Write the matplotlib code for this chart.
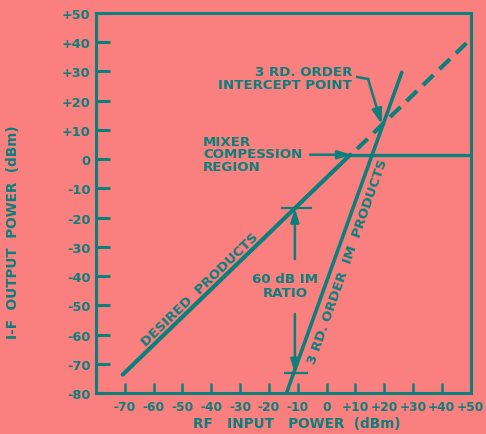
import matplotlib
matplotlib.use("Agg")
import matplotlib.pyplot as plt

# colours of the print
bg = "#fa8080"
ink = "#0b7f7b"

# axis ticks
x_ticks = [-70, -60, -50, -40, -30, -20, -10, 0, 10, 20, 30, 40, 50]
y_ticks = [-80, -70, -60, -50, -40, -30, -20, -10, 0, 10, 20, 30, 40, 50]

# curves (dBm in, dBm out)
desired_x = [-70.7, 8.2]
desired_y = [-73.7, 1.5]
compress_x = [8.2, 50]
compress_y = [1.5, 1.5]
extrap_x = [10.6, 50]
extrap_y = [3.5, 41.1]
im3_x = [-13.9, 26.1]
im3_y = [-80, 29.7]

# 60 dB ratio markers
ratio_x = -11
ratio_top = -16.8
ratio_bottom = -73.2
intercept = (19.1, 12.0)


def fmt(v):
    return "+%d" % v if v > 0 else "%d" % v


plt.rcParams['font.family'] = ['DejaVu Sans']
plt.rcParams['font.weight'] = 'bold'

fig = plt.figure(figsize=(4.86, 4.35), dpi=100, facecolor=bg)
ax = fig.add_axes([0.1975, 0.0943, 0.771, 0.8736], facecolor=bg)

lw = 3.0
ax.plot(desired_x, desired_y, color=ink, lw=lw, solid_capstyle='round')
ax.plot(compress_x, compress_y, color=ink, lw=2.4)
ax.plot(extrap_x, extrap_y, color=ink, lw=lw, dashes=(3.5, 2))
ax.plot(im3_x, im3_y, color=ink, lw=2.6, solid_capstyle='round')

ax.set_xlim(-80, 50)
ax.set_ylim(-80, 50)

for s in ax.spines.values():
    s.set_color(ink)
    s.set_linewidth(2.2)

ax.set_xticks(x_ticks)
ax.set_xticklabels([fmt(v) for v in x_ticks])
ax.set_yticks(y_ticks)
ax.set_yticklabels([fmt(v) for v in y_ticks])
ax.tick_params(axis='y', direction='in', length=10, width=2.2, color=ink,
               labelcolor=ink, labelsize=9.3, pad=4)
ax.tick_params(axis='x', direction='in', length=7, width=1.8, color=ink,
               labelcolor=ink, labelsize=8.8, pad=5)
for t in ax.get_xticklabels() + ax.get_yticklabels():
    t.set_fontweight('bold')

ax.set_ylabel("I-F  OUTPUT  POWER  (dBm)", color=ink, fontsize=9.8, fontweight='bold')
ax.yaxis.set_label_coords(-0.202, 0.425)
ax.set_xlabel("RF   INPUT   POWER  (dBm)", color=ink, fontsize=9.8, fontweight='bold')
ax.xaxis.set_label_coords(0.536, -0.061)

tsize = 9.6

# 60 dB IM ratio
for yy, x0, x1 in [(ratio_top, -15.5, -5.4), (ratio_bottom, -14.4, -6.8)]:
    ax.plot([x0, x1], [yy, yy], color=ink, lw=1.6)
ax.annotate("", xy=(ratio_x, ratio_top), xytext=(ratio_x, -34.2),
            arrowprops=dict(arrowstyle='-|>,head_length=0.8,head_width=0.25',
                            color=ink, lw=1.8, shrinkA=0, shrinkB=0))
ax.annotate("", xy=(ratio_x, ratio_bottom), xytext=(ratio_x, -53),
            arrowprops=dict(arrowstyle='-|>,head_length=0.8,head_width=0.25',
                            color=ink, lw=1.8, shrinkA=0, shrinkB=0))
ax.text(-14.4, -43.4, "60 dB IM\nRATIO", color=ink, fontsize=tsize,
        fontweight='bold', ha='center', va='center', linespacing=1.1)

# labels along the lines
ax.text(-43.9, -44.4, "DESIRED  PRODUCTS", color=ink, fontsize=tsize,
        fontweight='bold', ha='center', va='center', rotation=44,
        rotation_mode='anchor')
ax.text(7.4, -34.8, "3 RD. ORDER  IM  PRODUCTS", color=ink, fontsize=tsize,
        fontweight='bold', ha='center', va='center', rotation=70.5,
        rotation_mode='anchor')

# intercept point callout
ax.text(8.8, 27.8, "3 RD. ORDER\nINTERCEPT POINT", color=ink, fontsize=tsize,
        fontweight='bold', ha='right', va='center', multialignment='right',
        linespacing=1.0)
ax.plot([10.6, 14.4], [28.1, 27.4], color=ink, lw=1.8)
ax.annotate("", xy=intercept, xytext=(14.4, 27.4),
            arrowprops=dict(arrowstyle='-|>,head_length=0.9,head_width=0.3',
                            color=ink, lw=1.8, shrinkA=0, shrinkB=0))

# compression region callout
ax.text(-42.9, 1.8, "MIXER\nCOMPESSION\nREGION", color=ink, fontsize=tsize,
        fontweight='bold', ha='left', va='center', linespacing=0.95)
ax.annotate("", xy=(8.6, 1.5), xytext=(-5.7, 1.5),
            arrowprops=dict(arrowstyle='-|>,head_length=0.8,head_width=0.25',
                            color=ink, lw=1.8, shrinkA=0, shrinkB=0))

fig.savefig("out.png", dpi=100, facecolor=bg)
